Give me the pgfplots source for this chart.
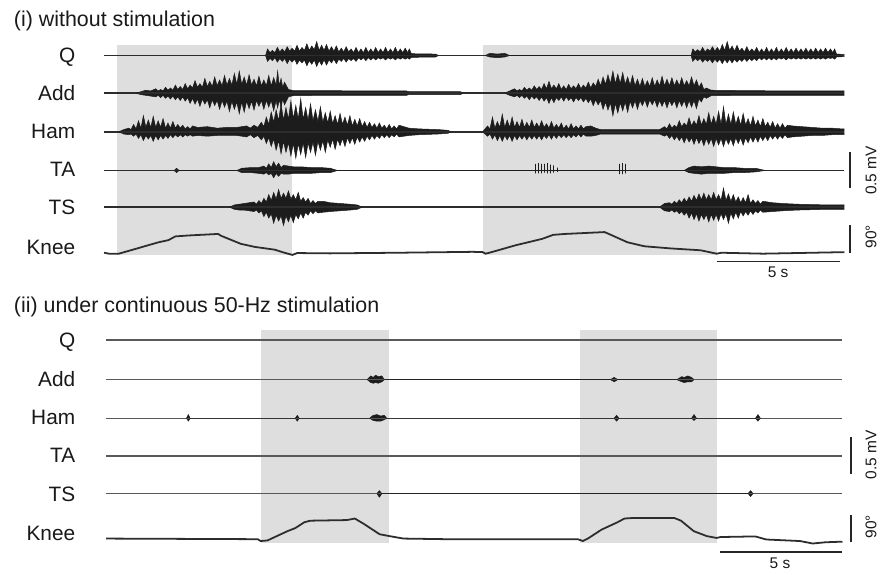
\documentclass[border=0pt]{standalone}
\usepackage{pgfplots}
\pgfplotsset{compat=1.18}
\usepackage{pgfplotstable}
\usepgfplotslibrary{fillbetween}
\usepackage{fontspec}
\setmainfont{Liberation Sans}
\definecolor{shade}{RGB}{222,222,222}
\definecolor{emg}{RGB}{28,28,28}
\definecolor{trace}{RGB}{45,45,45}
\newcommand{\lbl}{\fontsize{10.5}{12}\selectfont}
\newcommand{\ttl}{\fontsize{10.8}{12}\selectfont}
\newcommand{\sml}{\fontsize{7.8}{9}\selectfont}

% ---------- panel (i): EMG envelopes, t in s, u/l in mV ----------
\pgfplotstableread{
t u l
6.57 0 0
6.65 .09 .08
6.75 .04 .04
6.85 .07 .07
6.95 .04 .03
7.05 .11 .09
7.15 .05 .04
7.25 .09 .08
7.35 .05 .04
7.45 .12 .11
7.55 .06 .05
7.65 .10 .09
7.75 .06 .05
7.85 .14 .12
7.95 .06 .06
8.05 .11 .10
8.15 .07 .06
8.25 .16 .14
8.35 .07 .07
8.45 .13 .12
8.55 .08 .06
8.65 .19 .15
8.75 .07 .07
8.85 .14 .13
8.95 .07 .06
9.05 .15 .13
9.15 .06 .06
9.25 .12 .10
9.35 .06 .05
9.45 .13 .11
9.55 .05 .05
9.65 .10 .08
9.75 .05 .04
9.85 .12 .09
9.95 .05 .04
10.05 .09 .07
10.15 .04 .04
10.25 .11 .08
10.35 .04 .03
10.45 .09 .06
10.55 .04 .03
10.65 .11 .07
10.75 .04 .03
10.85 .09 .06
10.95 .04 .03
11.05 .11 .06
11.15 .04 .03
11.25 .09 .05
11.35 .04 .03
11.45 .11 .06
11.55 .04 .03
11.65 .09 .05
11.75 .04 .03
11.85 .11 .06
11.95 .04 .03
12.05 .09 .05
12.15 .04 .03
12.25 .10 .05
12.35 .04 .03
12.42 .09 .05
12.50 .025 .025
13.5 .02 .02
13.6 0 0
}\QaI
\pgfplotstableread{
t u l
15.5 0 0
15.7 .03 .02
16.0 .02 .03
16.3 .03 .02
16.5 0 0
23.88 0 0
23.95 .09 .08
24.05 .05 .04
24.15 .08 .07
24.25 .05 .04
24.35 .11 .09
24.45 .05 .05
24.55 .09 .08
24.65 .06 .05
24.75 .12 .10
24.85 .06 .05
24.95 .11 .09
25.05 .06 .05
25.15 .15 .11
25.25 .07 .05
25.35 .19 .10
25.45 .07 .05
25.55 .13 .10
25.65 .06 .05
25.75 .14 .09
25.85 .06 .05
25.95 .10 .08
26.05 .05 .04
26.15 .12 .08
26.25 .05 .04
26.35 .09 .07
26.45 .05 .04
26.55 .11 .07
26.65 .04 .03
26.75 .09 .06
26.85 .04 .03
26.95 .11 .06
27.05 .04 .03
27.15 .09 .06
27.25 .04 .03
27.35 .11 .06
27.45 .04 .03
27.55 .09 .05
27.65 .04 .03
27.75 .11 .06
27.85 .04 .03
27.95 .09 .05
28.05 .04 .03
28.15 .10 .05
28.25 .04 .03
28.35 .09 .05
28.45 .04 .03
28.55 .10 .05
28.65 .04 .03
28.75 .09 .05
28.85 .04 .03
28.95 .10 .05
29.05 .04 .03
29.15 .09 .05
29.25 .04 .03
29.35 .10 .05
29.45 .04 .03
29.55 .09 .04
29.65 .04 .03
29.72 .09 .05
29.80 .02 .02
30.12 .015 .015
}\QbI
\pgfplotstableread{
t u l
1.29 0 0
1.5 .02 .02
1.7 .04 .03
1.9 .03 .04
2.1 .06 .05
2.2 .03 .03
2.3 .05 .06
2.4 .03 .03
2.5 .08 .07
2.6 .04 .04
2.7 .07 .08
2.8 .04 .04
2.9 .11 .09
3.0 .05 .05
3.1 .09 .10
3.2 .05 .05
3.3 .13 .11
3.4 .06 .06
3.5 .11 .14
3.6 .07 .07
3.7 .17 .15
3.8 .08 .08
3.9 .13 .18
4.0 .08 .08
4.1 .20 .15
4.2 .09 .09
4.3 .16 .20
4.4 .09 .09
4.5 .22 .17
4.6 .10 .10
4.7 .18 .22
4.8 .10 .10
4.9 .24 .19
5.0 .11 .11
5.1 .20 .25
5.2 .11 .11
5.3 .27 .22
5.4 .12 .12
5.5 .30 .28
5.6 .12 .12
5.7 .22 .26
5.8 .11 .11
5.9 .25 .21
6.0 .11 .11
6.1 .19 .23
6.2 .10 .10
6.3 .23 .18
6.4 .10 .10
6.5 .18 .22
6.6 .10 .10
6.7 .24 .19
6.8 .10 .10
6.9 .21 .24
7.0 .11 .10
7.06 .30 .20
7.13 .10 .09
7.2 .20 .19
7.27 .08 .08
7.34 .15 .16
7.5 .05 .05
7.7 .035 .035
9.0 .035 .03
10.5 .03 .03
12.3 .03 .03
12.4 .02 .02
14.5 .02 .02
14.6 0 0
}\AddaI
\pgfplotstableread{
t u l
16.3 0 0
16.5 .03 .03
16.7 .06 .05
16.8 .03 .03
16.9 .05 .06
17.0 .03 .03
17.1 .08 .07
17.2 .04 .04
17.3 .07 .09
17.4 .04 .04
17.5 .10 .08
17.6 .05 .05
17.7 .09 .10
17.8 .05 .05
17.9 .13 .11
18.0 .06 .06
18.1 .16 .14
18.2 .06 .06
18.3 .11 .13
18.4 .06 .06
18.5 .13 .10
18.6 .05 .05
18.7 .10 .11
18.8 .05 .05
18.9 .12 .10
19.0 .06 .06
19.1 .10 .12
19.2 .06 .06
19.3 .13 .10
19.4 .06 .06
19.5 .11 .12
19.6 .07 .07
19.7 .15 .13
19.8 .07 .08
19.9 .14 .17
20.0 .09 .09
20.1 .19 .16
20.2 .10 .10
20.3 .22 .22
20.4 .12 .12
20.5 .25 .23
20.6 .13 .13
20.7 .30 .31
20.8 .13 .14
20.9 .26 .27
21.0 .13 .13
21.1 .28 .24
21.2 .12 .12
21.3 .22 .26
21.4 .11 .11
21.5 .24 .20
21.6 .10 .10
21.7 .19 .22
21.8 .09 .10
21.9 .20 .17
22.0 .09 .09
22.1 .17 .19
22.2 .09 .09
22.3 .21 .16
22.4 .09 .09
22.5 .18 .19
22.6 .10 .10
22.7 .23 .18
22.8 .10 .10
22.9 .19 .20
23.0 .10 .10
23.1 .21 .17
23.2 .10 .10
23.3 .18 .20
23.4 .10 .10
23.5 .21 .18
23.6 .10 .10
23.7 .17 .20
23.8 .10 .10
23.9 .22 .19
24.0 .10 .10
24.1 .18 .21
24.2 .08 .08
24.3 .14 .12
24.4 .05 .05
24.5 .07 .07
24.7 .04 .035
26.0 .035 .03
28.0 .03 .03
30.12 .03 .03
}\AddbI
\pgfplotstableread{
t u l
0.6 0 0
0.8 .03 .03
1.0 .05 .04
1.1 .03 .03
1.2 .10 .06
1.3 .04 .03
1.4 .15 .09
1.5 .05 .04
1.6 .22 .12
1.7 .06 .05
1.8 .16 .10
1.9 .06 .05
2.0 .21 .13
2.1 .06 .05
2.2 .15 .11
2.3 .06 .05
2.4 .18 .10
2.5 .05 .05
2.6 .12 .09
2.7 .05 .04
2.8 .14 .08
2.9 .05 .04
3.0 .10 .07
3.1 .05 .04
3.2 .09 .07
3.3 .04 .04
3.4 .07 .06
3.5 .04 .04
3.6 .08 .06
3.8 .06 .05
4.2 .07 .06
4.6 .05 .05
5.0 .06 .05
5.4 .06 .05
5.8 .08 .07
5.95 .05 .04
6.1 .09 .08
6.25 .06 .05
6.4 .13 .11
6.5 .07 .06
6.6 .20 .16
6.7 .10 .08
6.8 .27 .20
6.9 .13 .10
7.0 .30 .25
7.1 .15 .12
7.2 .38 .30
7.3 .16 .13
7.4 .33 .28
7.5 .17 .15
7.6 .42 .33
7.7 .18 .16
7.8 .36 .36
7.9 .17 .16
8.0 .45 .31
8.1 .17 .15
8.2 .33 .35
8.3 .16 .15
8.4 .38 .28
8.5 .15 .14
8.6 .30 .32
8.7 .14 .13
8.8 .34 .25
8.9 .13 .12
9.0 .26 .28
9.1 .12 .11
9.2 .28 .21
9.3 .11 .10
9.4 .22 .24
9.5 .10 .10
9.6 .25 .19
9.7 .10 .09
9.8 .20 .20
9.9 .09 .08
10.0 .22 .16
10.1 .08 .08
10.2 .17 .17
10.3 .08 .07
10.4 .18 .14
10.5 .07 .07
10.6 .14 .13
10.7 .06 .06
10.8 .13 .11
10.9 .06 .05
11.0 .11 .10
11.1 .05 .05
11.2 .12 .09
11.3 .05 .04
11.4 .09 .08
11.5 .04 .04
11.6 .10 .08
11.7 .04 .04
11.8 .08 .07
11.9 .04 .03
12.0 .09 .07
12.4 .05 .05
12.8 .04 .04
13.2 .035 .035
13.6 .03 .03
14.0 .02 .02
14.1 0 0
}\HamaI
\pgfplotstableread{
t u l
15.4 0 0
15.6 .08 .06
15.7 .04 .03
15.8 .20 .10
15.9 .05 .04
16.0 .14 .12
16.1 .06 .05
16.2 .24 .13
16.3 .06 .05
16.4 .16 .11
16.5 .06 .05
16.6 .20 .13
16.7 .06 .05
16.8 .14 .11
16.9 .06 .05
17.0 .17 .10
17.1 .06 .05
17.2 .13 .11
17.3 .06 .05
17.4 .16 .10
17.5 .06 .05
17.6 .12 .10
17.7 .06 .05
17.8 .15 .11
17.9 .06 .05
18.0 .11 .09
18.1 .05 .04
18.2 .14 .10
18.3 .05 .04
18.4 .10 .09
18.5 .05 .04
18.6 .12 .08
18.7 .04 .04
18.8 .09 .08
18.9 .04 .04
19.0 .11 .08
19.1 .04 .04
19.2 .08 .07
19.3 .04 .03
19.4 .09 .07
19.5 .04 .03
19.6 .07 .06
19.8 .08 .06
20.0 .05 .05
20.2 .03 .03
22.6 .03 .03
22.8 .07 .06
22.9 .04 .04
23.0 .11 .09
23.1 .05 .05
23.2 .09 .11
23.3 .06 .06
23.4 .15 .12
23.5 .07 .07
23.6 .12 .15
23.7 .08 .07
23.8 .19 .14
23.9 .08 .08
24.0 .15 .17
24.1 .09 .08
24.2 .22 .16
24.3 .09 .09
24.4 .18 .19
24.5 .10 .09
24.6 .26 .17
24.7 .10 .09
24.8 .21 .20
24.9 .10 .09
25.0 .28 .18
25.1 .10 .09
25.2 .34 .20
25.3 .10 .09
25.4 .24 .17
25.5 .10 .09
25.6 .27 .19
25.7 .10 .08
25.8 .21 .16
25.9 .09 .08
26.0 .25 .18
26.1 .09 .08
26.2 .18 .15
26.3 .08 .07
26.4 .21 .14
26.5 .08 .07
26.6 .16 .14
26.7 .07 .06
26.8 .18 .12
26.9 .07 .06
27.0 .13 .12
27.1 .06 .05
27.2 .14 .10
27.3 .05 .05
27.4 .11 .10
27.5 .05 .05
27.6 .11 .09
27.7 .05 .04
27.8 .09 .08
28.0 .08 .07
28.4 .07 .06
28.8 .06 .05
29.2 .05 .05
29.6 .05 .04
30.0 .04 .04
30.12 .04 .04
}\HambI
\pgfplotstableread{
t u l
2.85 0 0
2.95 .03 .03
3.05 0 0
5.4 0 0
5.6 .03 .03
6.0 .04 .03
6.3 .04 .04
6.5 .06 .05
6.6 .03 .03
6.7 .09 .06
6.8 .04 .04
6.9 .12 .10
7.0 .05 .04
7.1 .10 .08
7.2 .04 .04
7.3 .07 .05
7.5 .06 .05
7.7 .05 .04
8.0 .05 .04
8.4 .04 .04
8.8 .04 .03
9.2 .03 .03
9.5 0 0
23.6 0 0
23.8 .04 .03
24.0 .06 .04
24.3 .05 .05
24.6 .06 .04
24.9 .05 .04
25.2 .04 .04
25.6 .04 .03
26.0 .03 .03
26.5 .03 .02
26.9 0 0
}\TAaI
\pgfplotstableread{
t v
17.50 0
17.55 0
17.55 0.09
17.55 -0.04
17.55 0
17.68 0
17.68 0.10
17.68 -0.04
17.68 0
17.80 0
17.80 0.09
17.80 -0.04
17.80 0
17.92 0
17.92 0.09
17.92 -0.03
17.92 0
18.04 0
18.04 0.10
18.04 -0.04
18.04 0
18.16 0
18.16 0.08
18.16 -0.04
18.16 0
18.30 0
18.30 0.07
18.30 -0.03
18.30 0
18.45 0
18.45 0.04
18.45 -0.02
18.45 0
20.98 0
20.98 0.09
20.98 -0.05
20.98 0
21.10 0
21.10 0.10
21.10 -0.05
21.10 0
21.22 0
21.22 0.09
21.22 -0.04
21.22 0
21.30 0
}\TAspI
\pgfplotstableread{
t u l
5.1 0 0
5.3 .03 .03
5.5 .04 .04
5.7 .05 .04
5.9 .06 .05
6.1 .07 .06
6.2 .04 .04
6.3 .09 .08
6.4 .05 .05
6.5 .12 .13
6.6 .07 .07
6.7 .17 .15
6.8 .09 .09
6.9 .20 .22
7.0 .11 .11
7.1 .24 .19
7.2 .12 .12
7.3 .19 .25
7.4 .12 .12
7.5 .22 .20
7.6 .11 .11
7.7 .17 .21
7.8 .10 .10
7.9 .20 .16
8.0 .08 .08
8.1 .13 .15
8.2 .07 .07
8.3 .12 .11
8.4 .05 .05
8.5 .09 .09
8.6 .05 .05
8.7 .08 .08
8.9 .08 .07
9.2 .06 .06
9.6 .05 .05
10.0 .04 .04
10.3 .03 .03
10.5 0 0
}\TSaI
\pgfplotstableread{
t u l
22.6 0 0
22.8 .05 .05
23.0 .06 .06
23.1 .04 .04
23.2 .08 .07
23.3 .05 .05
23.4 .10 .09
23.5 .06 .06
23.6 .12 .11
23.7 .07 .07
23.8 .14 .15
23.9 .08 .08
24.0 .16 .17
24.1 .09 .09
24.2 .18 .19
24.3 .10 .10
24.4 .19 .17
24.5 .10 .10
24.6 .17 .20
24.7 .10 .10
24.8 .20 .18
24.9 .10 .10
25.0 .17 .19
25.1 .09 .09
25.2 .26 .17
25.3 .09 .09
25.4 .18 .22
25.5 .08 .08
25.6 .17 .16
25.7 .07 .07
25.8 .14 .15
25.9 .06 .06
26.0 .13 .12
26.1 .06 .06
26.2 .17 .11
26.3 .05 .05
26.4 .10 .10
26.5 .05 .05
26.6 .09 .08
26.7 .04 .04
26.8 .08 .07
27.2 .06 .06
27.6 .05 .05
28.2 .04 .04
28.8 .035 .035
29.4 .03 .03
30.12 .03 .03
}\TSbI
% ---------- panel (ii) small blips ----------
\pgfplotstableread{
t u l
10.7 0 0
10.85 .05 .04
10.95 .03 .05
11.05 .06 .04
11.15 .04 .05
11.3 .05 .03
11.4 0 0
20.6 0 0
20.75 .03 .03
20.9 0 0
23.3 0 0
23.5 .04 .03
23.6 .03 .04
23.75 .05 .03
23.9 .03 .03
24.0 0 0
}\AddII
\pgfplotstableread{
t u l
3.35 0 0
3.43 .05 .04
3.5 0 0
7.78 0 0
7.86 .04 .04
7.94 0 0
10.8 0 0
10.95 .04 .03
11.1 .05 .04
11.25 .03 .04
11.4 .04 .02
11.5 0 0
20.75 0 0
20.85 .04 .04
20.95 0 0
23.9 0 0
24.0 .05 .03
24.1 0 0
26.5 0 0
26.6 .05 .04
26.7 0 0
}\HamII
\pgfplotstableread{
t u l
11.1 0 0
11.2 .04 .05
11.3 0 0
26.2 0 0
26.3 .04 .04
26.4 0 0
}\TSII
% ---------- knee angles (deg, relative to rest) ----------
\pgfplotstableread{
t a
0 0
0.2 -3
0.6 -3
2.22 34
2.62 41
2.9 53
3.43 56
4.64 61
4.76 55
5.56 29
6.13 19
6.94 10
7.34 0
7.66 -7
7.86 -1
9.19 -2
11.9 0
15.0 3
15.4 2
15.52 -3
15.81 3
16.73 24
17.82 45
18.27 58
18.75 61
20.36 67
20.48 63
21.29 34
21.98 21
23.06 14
24.27 8
24.92 -3
25.12 0
26.81 -3
30.12 2
}\KneeI
\pgfplotstableread{
t a
0.08 2
6.25 0
6.37 -6
6.65 -4
7.46 26
7.78 36
8.15 55
8.39 60
9.88 62
10.2 67
10.56 50
11.21 16
11.61 10
12.18 2
13.91 0
19.27 0
19.48 -6
19.68 2
20.24 31
20.89 55
21.17 67
21.57 69
23.19 69
23.47 60
23.99 26
24.52 10
24.92 4
25.08 7
26.49 9
26.94 -1
28.31 -6
28.83 -14
29.35 -10
30.04 -8
}\KneeII

\newcommand{\burst}[3]{%
  \addplot[name path=#3u, draw=emg, line width=0.25pt] table[x=t, y expr=\thisrow{u}+#2] {#1};
  \addplot[name path=#3l, draw=emg, line width=0.25pt] table[x=t, y expr=#2-\thisrow{l}] {#1};
  \addplot[fill=emg, draw=none] fill between[of=#3u and #3l];
}

\pgfplotsset{
  emgaxis/.style={hide axis, clip=false, set layers, x=12.4pt, y=37pt, xmin=0, xmax=30.12,
    ymin=0, enlargelimits=false, anchor=south west},
  kneeaxis/.style={hide axis, clip=false, x=12.4pt, y=0.15556pt, xmin=0, xmax=30.12,
    ymax=100, enlargelimits=false, anchor=south west},
  base/.style={trace, line width=0.7pt},
  baseii/.style={black!65, line width=0.6pt},
  shadebox/.style={fill=shade, draw=none, on layer=axis background},
}

\begin{document}
\begin{tikzpicture}
% ================= panel (i) =================
\begin{axis}[emgaxis, ymax=3.378, at={(52.5pt,-145pt)}]
\addplot[shadebox] coordinates {(0.52,0.446) (7.66,0.446) (7.66,3.311) (0.52,3.311)} -- cycle;
\addplot[shadebox] coordinates {(15.40,0.446) (24.92,0.446) (24.92,3.311) (15.40,3.311)} -- cycle;
\addplot[base] coordinates {(0,3.162) (30.12,3.162)};
\addplot[base] coordinates {(0,2.649) (30.12,2.649)};
\addplot[base] coordinates {(0,2.122) (30.12,2.122)};
\addplot[base] coordinates {(0,1.595) (30.12,1.595)};
\addplot[base] coordinates {(0,1.095) (30.12,1.095)};
\burst{\QaI}{3.162}{qa}
\burst{\QbI}{3.162}{qb}
\burst{\AddaI}{2.649}{adda}
\burst{\AddbI}{2.649}{addb}
\burst{\HamaI}{2.122}{hama}
\burst{\HambI}{2.122}{hamb}
\burst{\TAaI}{1.595}{taa}
\addplot[emg, line width=0.5pt] table[x=t, y expr=\thisrow{v}+1.595] {\TAspI};
\burst{\TSaI}{1.095}{tsa}
\burst{\TSbI}{1.095}{tsb}
% labels
\node[anchor=base west, font=\ttl, black!90] at (axis cs:-3.95,3.561) {(i) without stimulation};
\node[anchor=base east, font=\lbl, black!90] at (axis cs:-0.89,3.068) {Q};
\node[anchor=base east, font=\lbl, black!90] at (axis cs:-0.89,2.545) {Add};
\node[anchor=base east, font=\lbl, black!90] at (axis cs:-0.89,2.027) {Ham};
\node[anchor=base east, font=\lbl, black!90] at (axis cs:-0.89,1.514) {TA};
\node[anchor=base east, font=\lbl, black!90] at (axis cs:-0.89,0.991) {TS};
\node[anchor=base east, font=\lbl, black!90] at (axis cs:-0.89,0.450) {Knee};
% scale bars
\addplot[black!85, line width=0.8pt] coordinates {(24.92,0.351) (29.92,0.351)};
\node[anchor=base, font=\sml, black!90] at (axis cs:27.42,0.135) {5 s};
\addplot[black!85, line width=1pt] coordinates {(30.36,1.351) (30.36,1.851)};
\node[rotate=90, anchor=north, font=\sml, black!90] at (axis cs:30.69,1.595) {0.5 mV};
\end{axis}
\begin{axis}[kneeaxis, ymin=-112.5, at={(52.5pt,-145pt)}]
\addplot[trace, line width=0.9pt] table[x=t, y=a] {\KneeI};
\addplot[black!85, line width=1pt] coordinates {(30.36,0) (30.36,90)};
\node[rotate=90, anchor=north, font=\sml, black!90] at (axis cs:30.69,52) {90°};
\end{axis}

% ================= panel (ii) =================
\begin{axis}[emgaxis, ymax=3.405, at={(52.5pt,-288.5pt)}]
\addplot[shadebox] coordinates {(6.37,0.392) (11.61,0.392) (11.61,3.297) (6.37,3.297)} -- cycle;
\addplot[shadebox] coordinates {(19.35,0.392) (24.92,0.392) (24.92,3.297) (19.35,3.297)} -- cycle;
\addplot[baseii] coordinates {(0.08,3.162) (30.04,3.162)};
\addplot[baseii] coordinates {(0.08,2.622) (30.04,2.622)};
\addplot[baseii] coordinates {(0.08,2.095) (30.04,2.095)};
\addplot[baseii] coordinates {(0.08,1.581) (30.04,1.581)};
\addplot[baseii] coordinates {(0.08,1.068) (30.04,1.068)};
\burst{\AddII}{2.622}{addii}
\burst{\HamII}{2.095}{hamii}
\burst{\TSII}{1.068}{tsii}
\node[anchor=base west, font=\ttl, black!90] at (axis cs:-3.95,3.541) {(ii) under continuous 50-Hz stimulation};
\node[anchor=base east, font=\lbl, black!90] at (axis cs:-0.89,3.061) {Q};
\node[anchor=base east, font=\lbl, black!90] at (axis cs:-0.89,2.527) {Add};
\node[anchor=base east, font=\lbl, black!90] at (axis cs:-0.89,2.010) {Ham};
\node[anchor=base east, font=\lbl, black!90] at (axis cs:-0.89,1.486) {TA};
\node[anchor=base east, font=\lbl, black!90] at (axis cs:-0.89,0.959) {TS};
\node[anchor=base east, font=\lbl, black!90] at (axis cs:-0.89,0.432) {Knee};
\addplot[black!85, line width=0.8pt] coordinates {(25.04,0.27) (30.04,0.27)};
\node[anchor=base, font=\sml, black!90] at (axis cs:27.5,0.05) {5 s};
\addplot[black!85, line width=1pt] coordinates {(30.40,1.338) (30.40,1.838)};
\node[rotate=90, anchor=north, font=\sml, black!90] at (axis cs:30.69,1.595) {0.5 mV};
\end{axis}
\begin{axis}[kneeaxis, ymin=-106.1, at={(52.5pt,-288.5pt)}]
\addplot[trace, line width=0.9pt] table[x=t, y=a] {\KneeII};
\addplot[black!85, line width=1pt] coordinates {(30.40,-10) (30.40,80)};
\node[rotate=90, anchor=north, font=\sml, black!90] at (axis cs:30.69,40) {90°};
\end{axis}
\path (0,0) rectangle (441.5pt,-288.5pt);
\end{tikzpicture}
\end{document}
